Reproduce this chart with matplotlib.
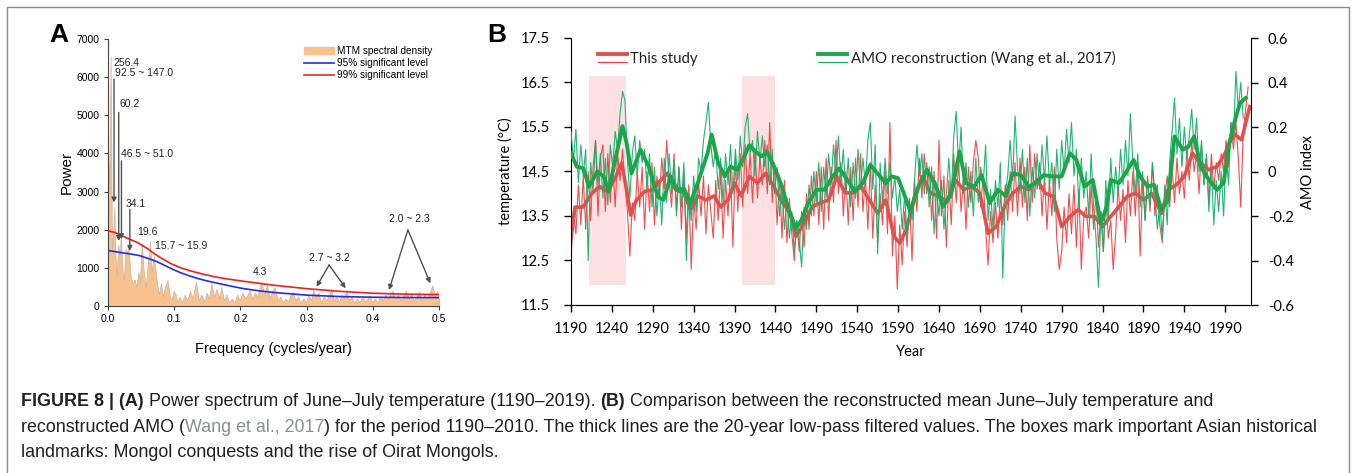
import numpy as np
import matplotlib.pyplot as plt
from matplotlib.patches import Rectangle, Patch
from matplotlib.lines import Line2D

W, H = 1356, 473

# ---------------- panel A: MTM power spectrum ----------------
spec_freq = [
    0.000, 0.002, 0.0039, 0.006, 0.0075, 0.0095, 0.0115, 0.013, 0.0155, 0.0175,
    0.0195, 0.022, 0.024, 0.0265, 0.029, 0.031, 0.034, 0.037, 0.040, 0.043,
    0.046, 0.048, 0.051, 0.054, 0.057, 0.060, 0.0635, 0.066, 0.069, 0.071,
    0.074, 0.077, 0.080, 0.083, 0.086, 0.090, 0.093, 0.096, 0.099, 0.102,
    0.105, 0.108, 0.112, 0.116, 0.120, 0.124, 0.128, 0.133, 0.137, 0.141,
    0.145, 0.149, 0.153, 0.156, 0.160, 0.164, 0.168, 0.171, 0.175, 0.179,
    0.183, 0.187, 0.191, 0.195, 0.199, 0.203, 0.207, 0.211, 0.214, 0.218,
    0.222, 0.226, 0.229, 0.232, 0.236, 0.240, 0.244, 0.248, 0.252, 0.256,
    0.260, 0.264, 0.268, 0.272, 0.276, 0.279, 0.283, 0.287, 0.291, 0.295,
    0.299, 0.303, 0.307, 0.310, 0.314, 0.318, 0.322, 0.326, 0.330, 0.334,
    0.337, 0.341, 0.345, 0.349, 0.353, 0.357, 0.360, 0.364, 0.368, 0.372,
    0.376, 0.380, 0.384, 0.388, 0.392, 0.395, 0.399, 0.403, 0.407, 0.411,
    0.415, 0.419, 0.423, 0.427, 0.430, 0.434, 0.438, 0.442, 0.446, 0.450,
    0.454, 0.458, 0.462, 0.466, 0.470, 0.474, 0.478, 0.482, 0.486, 0.490,
    0.494, 0.497, 0.500]
spec_power = [
    4300, 3000, 6550, 1500, 1800, 2600, 1200, 800, 1600, 1300,
    1900, 900, 700, 1500, 1400, 1550, 800, 600, 700, 500,
    900, 600, 1650, 900, 500, 1100, 1700, 900, 1300, 1050,
    600, 300, 600, 250, 500, 680, 300, 150, 400, 320,
    100, 250, 100, 300, 150, 400, 200, 640, 150, 300,
    120, 350, 200, 600, 250, 450, 200, 500, 150, 300,
    80, 200, 100, 300, 150, 350, 200, 300, 420, 200,
    350, 250, 500, 640, 300, 550, 200, 400, 500, 150,
    250, 100, 200, 120, 300, 375, 150, 250, 80, 200,
    100, 300, 150, 420, 250, 350, 100, 250, 150, 300,
    440, 150, 250, 100, 300, 200, 420, 150, 250, 80,
    200, 100, 250, 120, 200, 290, 100, 200, 80, 250,
    150, 300, 200, 350, 400, 200, 300, 150, 250, 400,
    200, 300, 150, 250, 375, 150, 300, 200, 350, 550,
    250, 400, 200]

sig99_freq = [0, 0.01, 0.02, 0.03, 0.045, 0.06, 0.07, 0.08, 0.095, 0.11, 0.125,
              0.14, 0.16, 0.18, 0.2, 0.25, 0.3, 0.35, 0.4, 0.45, 0.5]
sig99 = [1970, 1930, 1850, 1770, 1660, 1500, 1370, 1260, 1110, 1000, 920,
         850, 770, 710, 660, 545, 455, 385, 335, 310, 300]
sig95_freq = [0, 0.02, 0.035, 0.048, 0.06, 0.073, 0.085, 0.098, 0.11, 0.123, 0.136,
              0.149, 0.175, 0.2, 0.225, 0.25, 0.3, 0.35, 0.4, 0.45, 0.5]
sig95 = [1455, 1400, 1360, 1320, 1250, 1170, 1070, 960, 870, 790, 720,
         660, 560, 470, 405, 355, 285, 248, 230, 222, 220]

# peak labels: text, freq, power, alignment
peak_labels = [("256.4", 0.0086, 6370, "left"), ("92.5 ~ 147.0", 0.010, 6100, "left"),
               ("60.2", 0.0178, 5300, "left"), ("46.5 ~ 51.0", 0.0203, 3980, "left"),
               ("34.1", 0.0264, 2670, "left"), ("19.6", 0.044, 1940, "left"),
               ("15.7 ~ 15.9", 0.0705, 1560, "left"), ("4.3", 0.218, 900, "left"),
               ("2.7 ~ 3.2", 0.334, 1250, "center"), ("2.0 ~ 2.3", 0.456, 2275, "center")]
# arrows: (from freq, from power) -> (to freq, to power)
peak_arrows = [((0.0091, 5950), (0.0091, 2712)), ((0.0162, 5075), (0.0162, 1706)),
               ((0.0203, 3806), (0.0203, 1750)), ((0.033, 2537), (0.033, 1444)),
               ((0.334, 1076), (0.315, 507)), ((0.334, 1076), (0.359, 464)),
               ((0.453, 1995), (0.4245, 420)), ((0.453, 1995), (0.487, 595))]

# ---------------- panel B: temperature vs AMO ----------------
temp_thin = [
    12.5, 13.6, 13.1, 14.2, 13.3, 14.4, 13.2, 14.5, 13.4, 14.6,
    15.2, 13.5, 14.8, 15.1, 13.6, 14.9, 13.8, 14.7, 13.7, 14.9,
    14.3, 15.0, 14.2, 13.6, 12.6, 13.8, 13.4, 14.5, 13.7, 14.6,
    13.2, 14.5, 13.6, 14.7, 13.3, 14.4, 13.9, 14.8, 14.1, 15.2,
    14.3, 13.7, 14.9, 13.6, 14.6, 13.2, 14.5, 13.0, 14.2, 12.3,
    13.9, 13.2, 14.3, 13.5, 14.4, 13.1, 14.2, 13.6, 13.0, 14.3,
    13.4, 14.5, 13.0, 14.3, 13.5, 14.6, 12.8, 14.8, 13.6, 14.9,
    13.7, 15.1, 14.0, 14.9, 13.8, 15.0, 13.9, 14.8, 14.2, 15.2,
    14.0, 15.6, 13.8, 14.7, 13.3, 14.4, 13.0, 14.3, 12.9, 13.9,
    13.1, 12.5, 13.4, 12.7, 13.6, 12.8, 14.0, 13.2, 14.4, 13.5,
    14.5, 13.3, 14.6, 13.2, 14.8, 13.4, 14.6, 13.8, 15.2, 14.0,
    14.7, 13.5, 14.5, 13.3, 14.6, 13.4, 14.8, 13.7, 14.9, 13.6,
    14.4, 13.2, 14.7, 13.0, 14.2, 12.9, 14.0, 13.3, 14.6, 13.1,
    15.6, 12.6, 13.5, 11.85, 13.3, 12.4, 13.6, 12.8, 13.9, 12.5,
    14.3, 13.6, 14.8, 13.9, 14.9, 14.0, 14.6, 13.4, 14.5, 13.0,
    15.2, 13.5, 14.4, 12.8, 14.3, 13.3, 14.9, 13.8, 14.7, 13.6,
    14.4, 13.2, 14.6, 13.8, 14.7, 15.2, 14.8, 13.7, 14.4, 13.2,
    12.4, 13.6, 12.9, 13.8, 13.0, 14.0, 13.3, 14.2, 13.4, 14.5,
    13.6, 14.7, 13.5, 14.8, 13.7, 14.6, 13.4, 15.1, 13.8, 14.9,
    14.1, 14.7, 13.5, 14.4, 13.2, 14.3, 13.5, 14.6, 13.0, 12.3,
    12.7, 13.7, 12.9, 14.0, 13.1, 14.2, 12.8, 14.1, 12.3, 13.5,
    13.7, 13.0, 14.2, 13.2, 14.0, 12.8, 13.6, 12.7, 13.9, 13.0,
    13.4, 12.3, 13.1, 14.2, 13.4, 14.1, 12.9, 14.3, 13.5, 14.5,
    13.5, 14.6, 12.6, 14.3, 13.4, 14.4, 13.6, 14.7, 13.5, 14.2,
    13.3, 12.9, 13.9, 14.4, 13.7, 14.6, 13.8, 14.8, 14.0, 14.5,
    13.9, 15.0, 14.3, 15.2, 14.5, 14.9, 14.0, 15.1, 14.2, 14.8,
    13.8, 14.9, 14.1, 14.7, 14.3, 14.9, 14.5, 15.2, 14.6, 15.6,
    15.0, 15.6, 14.8, 13.7, 15.4, 15.9, 16.4]
temp_years = np.arange(1190, 2019, 3)

temp_smooth_years = [1190, 1195, 1205, 1215, 1225, 1235, 1245, 1252, 1258, 1263,
                     1270, 1280, 1290, 1300, 1308, 1318, 1328, 1336, 1345, 1355,
                     1365, 1373, 1382, 1390, 1398, 1408, 1418, 1428, 1438, 1448,
                     1458, 1465, 1475, 1485, 1495, 1505, 1515, 1525, 1535, 1545,
                     1555, 1565, 1575, 1585, 1592, 1600, 1610, 1620, 1630, 1640,
                     1650, 1660, 1670, 1680, 1690, 1700, 1710, 1720, 1730, 1740,
                     1750, 1760, 1770, 1780, 1790, 1800, 1810, 1820, 1830, 1840,
                     1850, 1860, 1870, 1880, 1890, 1900, 1912, 1920, 1930, 1940,
                     1950, 1960, 1970, 1980, 1990, 2000, 2010, 2020]
temp_smooth = [13.0, 13.7, 13.7, 14.0, 14.16, 14.05, 14.39, 14.69, 14.09, 13.52,
               13.86, 14.05, 14.09, 14.31, 14.46, 14.09, 14.02, 13.65, 13.95, 13.86,
               13.95, 13.7, 13.86, 14.24, 13.95, 14.39, 14.24, 14.46, 14.16, 13.82,
               13.56, 13.04, 13.34, 13.71, 13.79, 13.86, 14.39, 14.02, 14.02, 14.16,
               13.86, 13.56, 13.86, 13.04, 12.89, 13.19, 13.94, 14.39, 14.01, 13.94,
               13.82, 14.31, 14.09, 14.16, 14.01, 13.11, 13.26, 13.71, 14.01, 14.16,
               14.09, 14.31, 14.01, 13.94, 13.26, 13.49, 13.64, 13.49, 13.49, 13.26,
               13.49, 13.71, 13.94, 14.01, 13.86, 14.01, 13.56, 14.09, 14.2, 14.39,
               14.91, 14.69, 14.54, 14.61, 14.91, 15.36, 15.21, 15.96]

amo_thin = [
    0.18, 0.05, 0.19, -0.05, 0.12, -0.02, 0.10, -0.40, 0.04, -0.08,
    0.14, -0.06, 0.08, -0.12, 0.06, -0.15, 0.12, 0.02, 0.18, 0.10,
    0.26, 0.36, 0.32, 0.05, -0.12, 0.08, 0.16, -0.02, 0.14, 0.04,
    0.10, -0.08, 0.08, -0.16, 0.02, -0.20, -0.05, -0.24, 0.06, -0.14,
    0.08, -0.10, 0.05, -0.20, 0.02, -0.16, 0.04, -0.40, -0.10, -0.22,
    -0.02, -0.18, 0.06, 0.00, 0.14, 0.22, 0.31, 0.12, 0.02, 0.10,
    -0.08, 0.06, -0.14, 0.08, -0.06, 0.12, -0.10, 0.10, -0.04, 0.16,
    0.02, 0.20, 0.26, 0.08, 0.14, -0.02, 0.18, 0.04, 0.16, 0.02,
    0.12, -0.06, 0.10, -0.10, 0.02, -0.20, -0.08, -0.26, -0.12, -0.30,
    -0.18, -0.36, -0.22, -0.30, -0.43, -0.16, -0.26, -0.06, -0.20, 0.00,
    -0.14, 0.04, -0.18, 0.02, -0.12, 0.08, -0.06, 0.12, -0.02, 0.16,
    -0.04, 0.10, -0.10, 0.06, -0.16, 0.04, -0.12, 0.10, -0.08, 0.06,
    -0.06, 0.14, 0.22, -0.08, 0.12, -0.37, 0.04, -0.14, 0.06, -0.10,
    0.04, -0.12, -0.02, -0.18, -0.08, -0.26, -0.10, -0.30, -0.14, -0.22,
    -0.04, 0.12, -0.02, 0.08, -0.10, 0.04, -0.16, 0.02, -0.28, -0.08,
    -0.20, -0.04, -0.26, -0.10, 0.06, -0.12, 0.16, 0.27, 0.02, 0.20,
    -0.10, 0.04, -0.16, 0.00, -0.20, 0.06, -0.14, 0.02, -0.06, 0.12,
    -0.22, -0.08, -0.26, -0.04, -0.16, 0.04, -0.48, -0.10, -0.02, 0.14,
    -0.04, 0.25, 0.02, -0.10, 0.10, -0.14, 0.06, -0.20, 0.02, -0.12,
    0.08, -0.08, 0.12, -0.04, 0.16, -0.06, 0.04, -0.18, 0.10, -0.08,
    0.14, 0.00, 0.19, 0.04, 0.22, -0.02, 0.10, -0.16, 0.06, -0.12,
    0.00, -0.20, 0.08, -0.16, -0.30, -0.52, -0.18, -0.36, -0.04, -0.22,
    0.06, -0.14, 0.02, -0.10, 0.10, -0.06, 0.14, -0.02, 0.26, 0.04,
    -0.10, 0.08, -0.16, 0.00, -0.22, -0.04, -0.16, 0.04, -0.10, -0.26,
    -0.14, -0.30, -0.06, -0.24, 0.04, 0.18, 0.33, 0.08, 0.24, 0.02,
    0.20, 0.06, 0.16, 0.28, 0.10, 0.24, 0.00, 0.14, -0.06, 0.08,
    -0.18, 0.02, -0.24, -0.04, -0.18, 0.00, -0.20, 0.10, -0.06, 0.22,
    0.14, 0.45, 0.28, 0.40, 0.24]
amo_years = np.arange(1190, 2013, 3)

amo_smooth_years = [1190, 1197, 1205, 1212, 1222, 1230, 1236, 1245, 1253, 1258,
                    1264, 1275, 1285, 1296, 1303, 1312, 1320, 1328, 1336, 1345,
                    1357, 1362, 1370, 1378, 1385, 1393, 1400, 1408, 1416, 1423,
                    1430, 1440, 1448, 1455, 1465, 1472, 1480, 1490, 1500, 1510,
                    1518, 1528, 1537, 1547, 1556, 1565, 1575, 1582, 1590, 1600,
                    1605, 1615, 1625, 1635, 1645, 1655, 1665, 1673, 1683, 1692,
                    1702, 1712, 1722, 1730, 1740, 1750, 1758, 1768, 1778, 1790,
                    1800, 1808, 1818, 1828, 1838, 1845, 1850, 1860, 1868, 1878,
                    1886, 1895, 1903, 1912, 1920, 1928, 1938, 1945, 1952, 1960,
                    1970, 1980, 1988, 1995, 2002, 2008, 2015]
amo_smooth = [0.082, 0.022, 0.014, -0.068, 0.0, -0.022, -0.09, 0.068, 0.204, 0.128,
              -0.008, 0.098, 0.022, -0.112, -0.128, -0.022, -0.082, -0.076, -0.142, -0.052,
              0.082, 0.166, 0.038, -0.022, 0.022, 0.008, 0.052, 0.118, 0.088, 0.068,
              0.088, 0.008, -0.068, -0.158, -0.256, -0.218, -0.142, -0.082, -0.082, -0.022,
              0.014, -0.038, -0.09, -0.052, 0.03, -0.01, -0.052, -0.022, -0.03, -0.128,
              -0.18, -0.068, 0.008, -0.052, -0.158, -0.1, 0.09, -0.052, -0.068, -0.016,
              -0.142, -0.082, -0.112, -0.008, -0.016, -0.068, -0.052, -0.016, -0.022, -0.022,
              0.082, 0.052, -0.068, -0.038, -0.232, -0.158, -0.038, -0.052, -0.008, 0.052,
              -0.022, -0.068, -0.06, -0.172, -0.128, 0.158, 0.098, 0.112, 0.158, 0.022,
              -0.038, -0.082, -0.052, 0.128, 0.232, 0.308, 0.33]

# historical periods (Mongol conquests, rise of Oirat Mongols)
box_start = [1212.5, 1399.4]
box_end = [1256.8, 1440.0]
box_low, box_high = 11.95, 16.65

assert len(spec_freq) == len(spec_power)
assert len(temp_years) == len(temp_thin) and len(amo_years) == len(amo_thin)
assert len(temp_smooth_years) == len(temp_smooth) and len(amo_smooth_years) == len(amo_smooth)

fig = plt.figure(figsize=(W / 100, H / 100), dpi=100)

def px_axes(l, t, r, b):
    return fig.add_axes([l / W, 1 - b / H, (r - l) / W, (b - t) / H])

# ---- A ----
fa = "Liberation Sans"
axa = px_axes(108, 39, 439, 306)
axa.fill_between(spec_freq, spec_power, 0, facecolor="#f8c28e", edgecolor="#c8b4a4", lw=0.5)
axa.plot(sig95_freq, sig95, color="#1f2ff0", lw=1.2)
axa.plot(sig99_freq, sig99, color="#f02020", lw=1.2)
for (x0, y0), (x1, y1) in peak_arrows:
    axa.annotate("", xy=(x1, y1), xytext=(x0, y0),
                 arrowprops=dict(arrowstyle="-|>", color="#505050", lw=1.0,
                                 mutation_scale=7, shrinkA=0, shrinkB=0))
for txt, x, y, ha in peak_labels:
    axa.text(x, y, txt, ha=ha, va="center", fontsize=7.5, family=fa, color="#222222")
axa.set_xlim(0, 0.5)
axa.set_ylim(0, 7000)
axa.set_xticks([0, 0.1, 0.2, 0.3, 0.4, 0.5])
axa.set_xticklabels(["0.0", "0.1", "0.2", "0.3", "0.4", "0.5"])
axa.set_yticks(range(0, 7001, 1000))
for s in ["top", "right"]:
    axa.spines[s].set_visible(False)
for s in ["left", "bottom"]:
    axa.spines[s].set_color("#444444")
axa.tick_params(direction="out", length=3, width=0.8, color="#444444",
                labelsize=7.5, pad=3)
for lab in axa.get_xticklabels() + axa.get_yticklabels():
    lab.set_family(fa)
axa.text(0.5, -0.16, "Frequency (cycles/year)", transform=axa.transAxes,
         ha="center", va="center", fontsize=10.5, family=fa)
axa.text(-0.125, 0.5, "Power", transform=axa.transAxes, rotation=90,
         ha="center", va="center", fontsize=11, family=fa)
handles = [Patch(facecolor="#f8c28e", edgecolor="#f8c28e"),
           Line2D([], [], color="#1f2ff0", lw=1.2),
           Line2D([], [], color="#f02020", lw=1.2)]
axa.legend(handles, ["MTM spectral density", "95% significant level", "99% significant level"],
           loc="upper right", bbox_to_anchor=(1.0, 1.0), frameon=False,
           prop={"family": fa, "size": 7.2}, handlelength=3.0, handletextpad=0.3,
           labelspacing=0.2, borderaxespad=0.3)
fig.text(59 / W, 1 - 35 / H, "A", fontsize=19, fontweight="bold", family=fa,
         ha="center", va="center")

# ---- B ----
fb = "Lato"
axb = px_axes(571, 38, 1251, 305)
for s, e in zip(box_start, box_end):
    axb.add_patch(Rectangle((s, box_low), e - s, box_high - box_low,
                            facecolor="#fde0e2", edgecolor="none", zorder=0))
axb.plot(temp_years, temp_thin, color="#ef3a3a", lw=0.8, alpha=0.9)
axb.plot(temp_smooth_years, temp_smooth, color="#e0514d", lw=2.6)
axb.set_xlim(1190, 2021.5)
axb.set_ylim(11.5, 17.5)
axb.set_xticks(range(1190, 1991, 50))
axb.set_yticks([11.5, 12.5, 13.5, 14.5, 15.5, 16.5, 17.5])
axb.spines["top"].set_visible(False)
axb.spines["right"].set_visible(False)
axb.tick_params(axis="y", direction="out", length=5, width=1, labelsize=10.5, pad=10)
axb.tick_params(axis="x", direction="out", length=5, width=1, labelsize=10.5, pad=7)
for lab in axb.get_xticklabels() + axb.get_yticklabels():
    lab.set_family(fb)

axr = axb.twinx()
axr.plot(amo_years, amo_thin, color="#14b070", lw=0.8, alpha=0.95)
axr.plot(amo_smooth_years, amo_smooth, color="#1ba64a", lw=2.8)
axr.set_ylim(-0.6, 0.6)
axr.set_yticks([-0.6, -0.4, -0.2, 0, 0.2, 0.4, 0.6])
axr.set_yticklabels(["-0.6", "-0.4", "-0.2", "0", "0.2", "0.4", "0.6"])
axr.spines["top"].set_visible(False)
axr.spines["left"].set_visible(False)
axr.tick_params(axis="y", direction="out", length=5, width=1, labelsize=10.5, pad=7)
for lab in axr.get_yticklabels():
    lab.set_family(fb)

axb.text(0.5, -0.176, "Year", transform=axb.transAxes, ha="center", va="center",
         fontsize=10.5, family=fb)
axb.text(-0.097, 0.5, "temperature (°C)", transform=axb.transAxes, rotation=90,
         ha="center", va="center", fontsize=10.5, family=fb)
axr.text(1.084, 0.5, "AMO index", transform=axr.transAxes, rotation=90,
         ha="center", va="center", fontsize=10.5, family=fb)

# legend drawn by hand: thick line above thin line
for x0, x1, tx, col_thick, col_thin, label in [
        (0.040, 0.082, 0.087, "#e0514d", "#ef3a3a", "This study"),
        (0.363, 0.406, 0.412, "#1ba64a", "#14b070", "AMO reconstruction (Wang et al., 2017)")]:
    axr.add_line(Line2D([x0, x1], [0.940, 0.940], color=col_thick, lw=2.8,
                        transform=axr.transAxes, clip_on=False))
    axr.add_line(Line2D([x0, x1], [0.910, 0.910], color=col_thin, lw=0.8,
                        transform=axr.transAxes, clip_on=False))
    axr.text(tx, 0.922, label, transform=axr.transAxes, ha="left", va="center",
             fontsize=10.8, family=fb, color="#222222")
fig.text(497 / W, 1 - 35 / H, "B", fontsize=19, fontweight="bold", family=fa,
         ha="center", va="center")

# ---- caption ----
renderer = fig.canvas.get_renderer()
dark, link = "#231f20", "#8b8f96"
lines = [
    [("FIGURE 8 | (A)", True, dark),
     (" Power spectrum of June–July temperature (1190–2019). ", False, dark),
     ("(B)", True, dark),
     (" Comparison between the reconstructed mean June–July temperature and", False, dark)],
    [("reconstructed AMO (", False, dark), ("Wang et al., 2017", False, link),
     (") for the period 1190–2010. The thick lines are the 20-year low-pass filtered values. "
      "The boxes mark important Asian historical", False, dark)],
    [("landmarks: Mongol conquests and the rise of Oirat Mongols.", False, dark)],
]
probe = fig.text(0, 0, "".join(p[0] for p in lines[1]), fontsize=12, family=fa)
cap_fs = 12 * (1319 - 21) / probe.get_window_extent(renderer).width
probe.remove()
for y, pieces in zip([401, 427, 452], lines):
    x = 21
    for txt, bold, col in pieces:
        t = fig.text(x / W, 1 - y / H, txt, fontsize=cap_fs, family=fa, color=col,
                     fontweight="bold" if bold else "normal", ha="left", va="center")
        x += t.get_window_extent(renderer).width

# outer frame of the figure panel
fig.add_artist(Rectangle((7 / W, -0.02), (1349 - 7) / W, 1 - 7 / H + 0.02,
                         transform=fig.transFigure, fill=False, edgecolor="#8c8c8c", lw=1))

fig.savefig("out.png", dpi=100)
